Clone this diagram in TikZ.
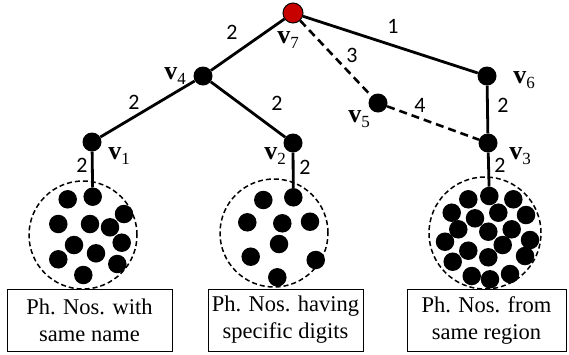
\documentclass[tikz,border=0pt]{standalone}
\usepackage{fontspec}
\setmainfont{Liberation Serif}
\newfontfamily\edgefont{Carlito}
\newcommand{\vlab}[1]{\textbf{v}\raisebox{-0.45ex}{\fontsize{17}{17}\selectfont #1}}

\begin{document}
\begin{tikzpicture}[x=1pt,y=-1pt,
  vtx/.style={circle,fill,inner sep=0pt,minimum size=19pt},
  root/.style={circle,draw,fill=red!78!black,line width=1pt,inner sep=0pt,minimum size=20pt},
  pt/.style={circle,fill,inner sep=0pt,minimum size=18.5pt},
  cluster/.style={circle,draw,dash pattern=on 5pt off 3pt,line width=1.5pt,inner sep=0pt,minimum size=#1},
  grp/.style={rectangle,draw,line width=1pt,align=center,minimum height=62pt,minimum width=#1,inner sep=0pt,
    font=\fontsize{22.5}{27}\selectfont},
  wlab/.style={font=\edgefont\fontsize{22}{22}\selectfont,inner sep=0pt},
  vname/.style={font=\fontsize{26}{26}\selectfont,inner sep=0pt},
  edge/.style={line width=2.8pt},
  link/.style={line width=2.6pt,dash pattern=on 8pt off 5pt}]
\useasboundingbox (0,0) rectangle (569,354);

\node [cluster=108pt] (c1) at (83,235) {};
\node [cluster=108pt] (c2) at (274,233) {};
\node [cluster=112pt] (c3) at (485,233) {};

\foreach \x/\y [count=\i] in {92.7/196.7,67.7/199.3,58.3/224,90/224,110/227.3,124/214,74/245,121.7/242.7,96/253.3,58.3/259.3,117.3/264,83.3/275}
  \node [pt] (a\i) at (\x,\y) {};
\foreach \x/\y [count=\i] in {293.3/197.3,263.3/200,247.3/222.3,282.3/223.3,310/221.7,279/244,250.7/256.7,315.7/260,277.3/277.3}
  \node [pt] (b\i) at (\x,\y) {};
\foreach \x/\y [count=\i] in {489.3/196,468.3/199.3,513.3/199.3,451.7/212.7,475/218.3,498.3/212.7,526/215,458.3/229.3,488.3/231.7,511.7/229.3,530/240,445/241.7,502.7/245,468.3/250.7,488.3/257.3,525/256,452.7/261.7,471.7/276,490/279.3,510/274}
  \node [pt] (d\i) at (\x,\y) {};

\node [root] (v7) at (293,13) {};
\node [vtx] (v4) at (203,76) {};
\node [vtx] (v6) at (487,76) {};
\node [vtx] (v5) at (378,103) {};
\node [vtx] (v1) at (92,142) {};
\node [vtx] (v2) at (293,143) {};
\node [vtx] (v3) at (488,143) {};

\draw [edge] (v7) -- (v4);
\draw [edge] (v7) -- (v6);
\draw [edge] (v4) -- (v1);
\draw [edge] (v4) -- (v2);
\draw [edge] (v6) -- (v3);
\draw [edge] (v1) -- (a1);
\draw [edge] (v2) -- (b1);
\draw [edge] (v3) -- (d1);
\draw [link] (v7) -- (v5);
\draw [link] (v5) -- (v3);

\node [wlab] (w1) at (232,32) {2};
\node [wlab] (w2) at (393,26) {1};
\node [wlab] (w3) at (352,55) {3};
\node [wlab] (w4) at (134,102) {2};
\node [wlab] (w5) at (277,103) {2};
\node [wlab] (w6) at (420,105) {4};
\node [wlab] (w7) at (503,105) {2};
\node [wlab] (w8) at (82,165) {2};
\node [wlab] (w9) at (305,167) {2};
\node [wlab] (w10) at (500,165) {2};

\node [vname] (n7) at (288,40) {\vlab{7}};
\node [vname] (n4) at (175,76) {\vlab{4}};
\node [vname] (n6) at (524,80) {\vlab{6}};
\node [vname] (n5) at (359,119) {\vlab{5}};
\node [vname] (n1) at (119,156) {\vlab{1}};
\node [vname] (n2) at (275,156) {\vlab{2}};
\node [vname] (n3) at (520,156) {\vlab{3}};

\node [grp=165pt] (g1) at (89.5,320) {Ph. Nos. with\\same name};
\node [grp=155pt] (g2) at (285.5,320) {Ph. Nos. having\\specific digits};
\node [grp=159pt] (g3) at (486.5,320) {Ph. Nos. from\\same region};
\end{tikzpicture}
\end{document}
